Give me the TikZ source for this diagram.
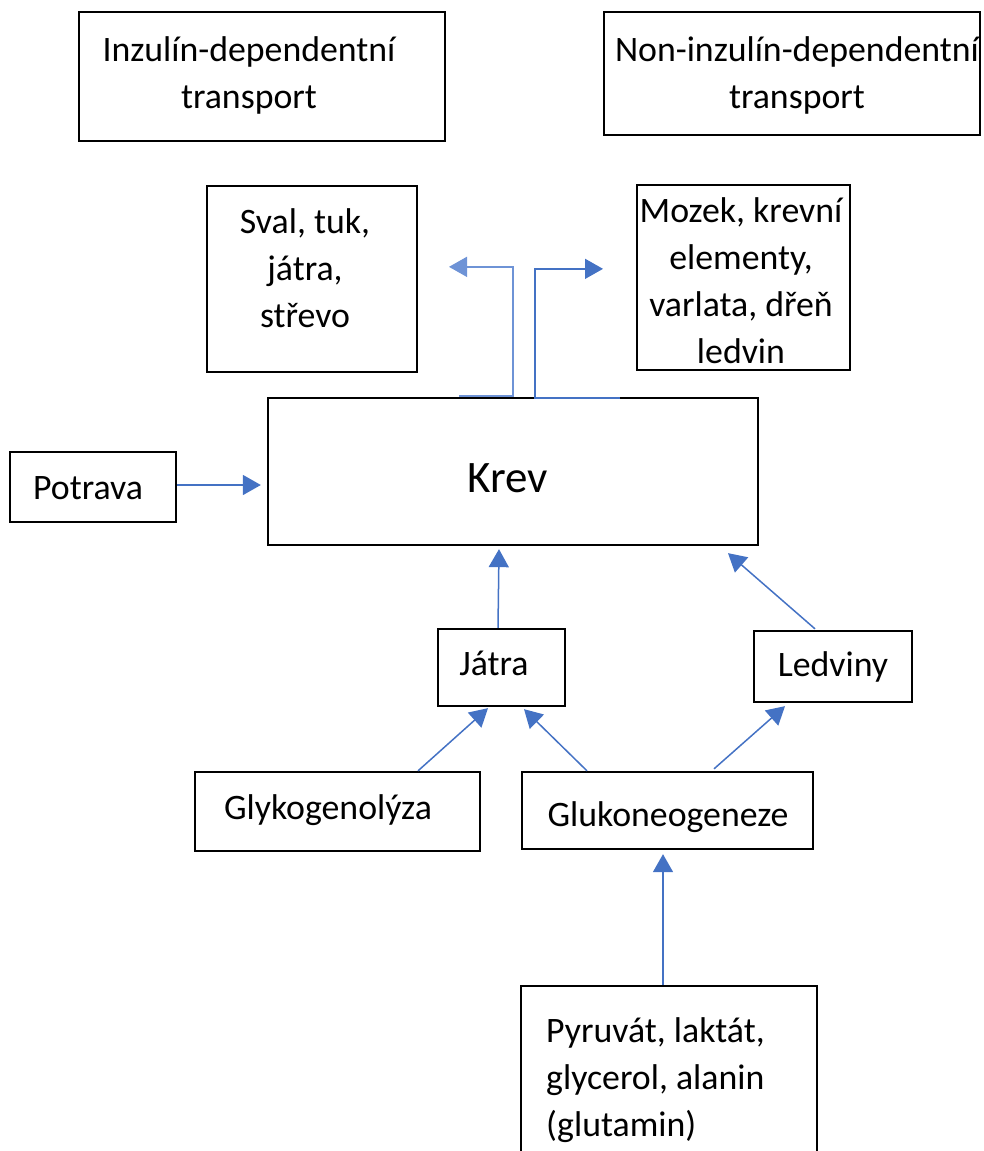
\documentclass[tikz,border=0pt]{standalone}
\usepackage{fontspec}
\setmainfont{Carlito}
\usetikzlibrary{arrows.meta,calc}
\definecolor{arrowblue}{HTML}{4472C4}
\definecolor{lightblue}{HTML}{6E93D6}
\tikzset{
  box/.style={draw=black,line width=2.3pt,inner sep=0pt,fill=none},
  lbl/.style={inner sep=0pt,font=\fontsize{35.8}{47}\selectfont,align=center},
  conn/.style={draw=arrowblue,line width=1.5pt,-{Triangle[length=18pt,width=20pt]}},
}
\begin{document}
\begin{tikzpicture}[x=1pt,y=-1pt]
\useasboundingbox (0,0) rectangle (983,1151);
% boxes
\node[box,minimum width=366pt,minimum height=129pt] (ins) at (262,76.5) {};
\node[box,minimum width=376pt,minimum height=123pt] (non) at (792,73.5) {};
\node[box,minimum width=210pt,minimum height=186pt] (sval) at (312,279) {};
\node[box,minimum width=213pt,minimum height=185pt] (mozek) at (743.5,277.5) {};
\node[box,minimum width=490pt,minimum height=147pt] (krev) at (513,471.5) {};
\node[box,minimum width=166pt,minimum height=70pt] (potrava) at (93,487) {};
\node[box,minimum width=127pt,minimum height=77pt] (jatra) at (501.5,667.5) {};
\node[box,minimum width=158pt,minimum height=71pt] (ledviny) at (833,666.5) {};
\node[box,minimum width=285pt,minimum height=79pt] (glyko) at (337.5,811.5) {};
\node[box,minimum width=291pt,minimum height=77pt] (gluko) at (667.5,810.5) {};
\node[box,minimum width=296pt,minimum height=180pt] (pyr) at (669,1076) {};
% labels
\node[lbl] (tins) at (249,75) {Inzulín-dependentní\\transport};
\node[lbl] (tnon) at (797,75) {Non-inzulín-dependentní\\transport};
\node[lbl] (tsval) at (305,268) {Sval, tuk,\\játra,\\střevo};
\node[lbl] (tmozek) at (741,281) {Mozek, krevní\\elementy,\\varlata, dřeň\\ledvin};
\node[lbl,font=\fontsize{45}{50}\selectfont] (tkrev) at (508,478) {Krev};
\node[lbl] (tpotrava) at (88,488) {Potrava};
\node[lbl] (tjatra) at (494,663) {Játra};
\node[lbl] (tledviny) at (833,667) {Ledviny};
\node[lbl] (tglyko) at (328,810) {Glykogenolýza};
\node[lbl] (tgluko) at (668,817) {Glukoneogeneze};
\node[lbl,align=left,anchor=west] (tpyr) at (546,1080) {Pyruvát, laktát,\\glycerol, alanin\\(glutamin)};
% connectors
\draw[conn] ($(potrava.east)+(0,-2)$) -- ($(krev.west |- potrava.east)+(-6,-2)$);
\draw[conn,draw=lightblue] ($(krev.north)+(-54,-1)$) -- ($(krev.north)+(0,-1)$) -- ($(krev.north)+(0,-130)$) -- ($(krev.north)+(-64,-130)$);
\draw[conn] ($(krev.north)+(107,1)$) -- ($(krev.north)+(22,1)$) -- ($(krev.north)+(22,-128)$) -- ($(krev.north)+(90,-128)$);
\draw[conn] ($(jatra.north)+(-3.5,0)$) -- ($(krev.south)+(-14,3)$);
\draw[conn] ($(ledviny.north)+(-18,-1)$) -- ($(krev.south)+(215,7)$);
\draw[conn] ($(glyko.north)+(80.5,0)$) -- ($(jatra.south)+(-13.5,1)$);
\draw[conn] ($(gluko.north)+(-80.5,0)$) -- ($(jatra.south)+(22.5,2)$);
\draw[conn] ($(gluko.north)+(46.5,-2)$) -- ($(ledviny.south)+(-48,3)$);
\draw[conn] ($(pyr.north)+(-6,0)$) -- ($(gluko.south)+(-4.5,4)$);
\end{tikzpicture}
\end{document}
